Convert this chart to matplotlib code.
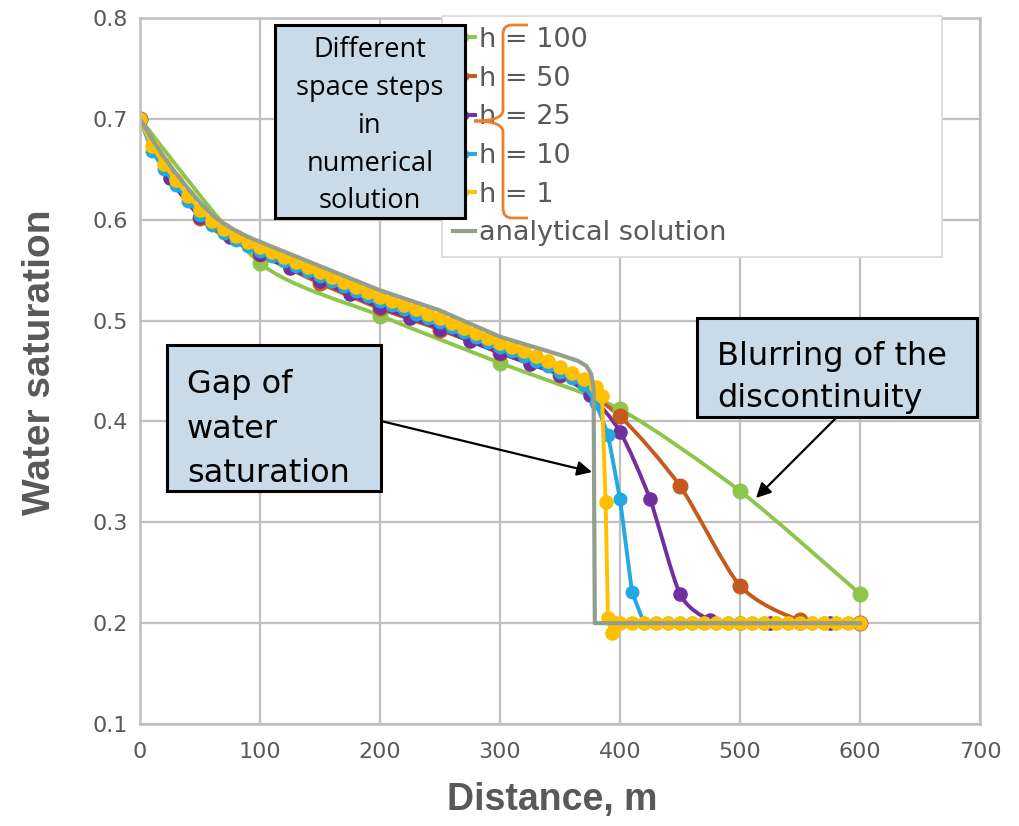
"""
plot.py - water saturation profiles for different space steps.

Recreates the comparison of numerical solutions (h = 100 ... 1)
against the analytical solution, with the three callout boxes.
"""

import matplotlib

matplotlib.use("Agg")

import matplotlib.pyplot as plt
import numpy as np
from matplotlib.lines import Line2D
from matplotlib.patches import FancyArrowPatch, PathPatch, Rectangle
from matplotlib.path import Path
from matplotlib.transforms import Affine2D

W, H = 1019, 826

# ---- data (distance in m, water saturation) ----
X_H100 = [0, 100, 200, 300, 400, 500, 600]
SW_H100 = [0.700, 0.557, 0.505, 0.458, 0.412, 0.331, 0.229]

X_H50 = [0, 50, 100, 150, 200, 250, 300, 350, 400, 450, 500, 550, 600]
SW_H50 = [0.700, 0.602, 0.566, 0.537, 0.512, 0.491, 0.468, 0.446,
          0.405, 0.336, 0.237, 0.203, 0.200]

X_H25 = [0, 25, 50, 75, 100, 125, 150, 175, 200, 225, 250, 275, 300,
         325, 350, 375, 400, 425, 450, 475, 500, 525, 550, 575, 600]
SW_H25 = [0.700, 0.641, 0.603, 0.583, 0.566, 0.552, 0.539, 0.526, 0.513,
          0.503, 0.492, 0.480, 0.468, 0.457, 0.446, 0.426, 0.390, 0.323,
          0.229, 0.203, 0.200, 0.200, 0.200, 0.200, 0.200]

X_H10 = list(range(0, 601, 10))
SW_H10 = [0.700, 0.668, 0.650, 0.634, 0.619, 0.605, 0.595, 0.587, 0.580,
          0.574, 0.569, 0.564, 0.559, 0.554, 0.549, 0.544, 0.539, 0.534,
          0.529, 0.524, 0.519, 0.515, 0.511, 0.507, 0.503, 0.499, 0.494,
          0.489, 0.484, 0.479, 0.474, 0.470, 0.465, 0.460, 0.455, 0.449,
          0.443, 0.436, 0.418, 0.387, 0.323, 0.231,
          0.200, 0.200, 0.200, 0.200, 0.200, 0.200, 0.200, 0.200, 0.200,
          0.200, 0.200, 0.200, 0.200, 0.200, 0.200, 0.200, 0.200, 0.200,
          0.200]

X_H1 = list(range(0, 381, 10)) + [385, 388, 390, 393, 396] + list(range(400, 601, 10))
SW_H1 = [0.700, 0.673, 0.655, 0.639, 0.624, 0.610, 0.599, 0.591, 0.584,
         0.578, 0.573, 0.568, 0.563, 0.558, 0.553, 0.548, 0.543, 0.538,
         0.533, 0.528, 0.523, 0.519, 0.515, 0.511, 0.507, 0.503, 0.498,
         0.493, 0.488, 0.483, 0.478, 0.474, 0.470, 0.465, 0.460, 0.454,
         0.448, 0.442, 0.434,
         0.425, 0.320, 0.205, 0.190, 0.200,
         0.200, 0.200, 0.200, 0.200, 0.200, 0.200, 0.200, 0.200, 0.200,
         0.200, 0.200, 0.200, 0.200, 0.200, 0.200, 0.200, 0.200, 0.200,
         0.200, 0.200, 0.200]

X_AN = [0, 10, 20, 30, 40, 50, 60, 70, 80, 90, 100, 125, 150, 175, 200,
        225, 250, 275, 300, 325, 350, 365, 372, 376, 378, 379, 600]
SW_AN = [0.700, 0.680, 0.662, 0.646, 0.631, 0.617, 0.605, 0.596, 0.589,
         0.583, 0.578, 0.566, 0.554, 0.542, 0.530, 0.520, 0.510, 0.497,
         0.484, 0.475, 0.466, 0.460, 0.455, 0.447, 0.433, 0.200, 0.200]

LABELS = ["h = 100", "h = 50", "h = 25", "h = 10", "h = 1", "analytical solution"]
X_TICKS = [0, 100, 200, 300, 400, 500, 600, 700]
Y_TICKS = [0.1, 0.2, 0.3, 0.4, 0.5, 0.6, 0.7, 0.8]

GREEN = "#8DC64B"
BROWN = "#C65A1E"
PURPLE = "#7030A0"
CYAN = "#22A9E1"
GOLD = "#FFC000"
GREY = "#939F8D"
TEXT_GREY = "#595959"
GRID_GREY = "#BFBFBF"
BOX_BLUE = "#C9DBE9"
BRACE = "#ED7D31"


def smooth_path(xs, ys):
    """Excel-like smoothed line through the points (cubic Bezier pieces)."""
    pts = np.column_stack([xs, ys]).astype(float)
    n = len(pts)
    verts = [pts[0]]
    codes = [Path.MOVETO]
    for i in range(n - 1):
        p0 = pts[max(i - 1, 0)]
        p1 = pts[i]
        p2 = pts[i + 1]
        p3 = pts[min(i + 2, n - 1)]
        verts += [p1 + (p2 - p0) / 8, p2 - (p3 - p1) / 8, p2]
        codes += [Path.CURVE4] * 3
    return Path(verts, codes)


fig = plt.figure(figsize=(W / 100, H / 100), dpi=100)
ax = fig.add_axes([140 / W, 1 - 724 / H, 840 / W, 706 / H])

# pixel coordinates of the picture (origin top-left) -> figure
PX = Affine2D().scale(1 / W, -1 / H).translate(0, 1) + fig.transFigure

# ---- series ----
series = [
    (X_H100, SW_H100, GREEN, 10.5, True),
    (X_H50, SW_H50, BROWN, 10.5, True),
    (X_H25, SW_H25, PURPLE, 9.5, True),
    (X_H10, SW_H10, CYAN, 9.0, False),
    (X_H1, SW_H1, GOLD, 9.5, False),
]
handles = []
for xs, ys, color, ms, smooth in series:
    if smooth:
        ax.add_patch(PathPatch(smooth_path(xs, ys), fill=False, edgecolor=color,
                               lw=2.8, capstyle="round", joinstyle="round"))
    else:
        ax.plot(xs, ys, color=color, lw=2.8, solid_joinstyle="round")
    ax.plot(xs, ys, linestyle="none", marker="o", ms=ms, color=color)
    handles.append(Line2D([], [], color=color, lw=2.8, marker="o", ms=ms))

ax.plot(X_AN, SW_AN, color=GREY, lw=3.0, solid_joinstyle="round")
handles.append(Line2D([], [], color=GREY, lw=3.0))

# ---- axes ----
ax.set_xlim(0, 700)
ax.set_ylim(0.1, 0.8)
ax.set_xticks(X_TICKS)
ax.set_xticklabels([str(v) for v in X_TICKS])
ax.set_yticks(Y_TICKS)
ax.set_yticklabels([f"{v:.1f}" for v in Y_TICKS])
ax.tick_params(length=0, labelsize=16, labelcolor=TEXT_GREY)
ax.tick_params(axis="x", pad=13)
ax.tick_params(axis="y", pad=9)
ax.grid(True, color=GRID_GREY, lw=1.6)
ax.set_axisbelow(True)
for spine in ax.spines.values():
    spine.set_color(GRID_GREY)
    spine.set_linewidth(1.8)

fig.text(552, 800, "Distance, m", transform=PX, ha="center", va="center",
         fontsize=27, fontweight="bold", color=TEXT_GREY,
         family=["Liberation Sans", "DejaVu Sans"])
fig.text(40, 362, "Water saturation", transform=PX, ha="center", va="center",
         rotation=90, fontsize=28, fontweight="bold", color=TEXT_GREY,
         family=["Liberation Sans", "DejaVu Sans"])

# ---- legend ----
leg = ax.legend(handles, LABELS, loc="upper left",
                bbox_to_anchor=(442 / W, 1 - 262 / H, 500 / W, 246 / H),
                bbox_transform=fig.transFigure, mode="expand", borderaxespad=0,
                fontsize=19.5, labelcolor=TEXT_GREY, handlelength=0.8,
                handletextpad=0.15, borderpad=0.4, labelspacing=0.47,
                fancybox=False, framealpha=1)
leg.get_frame().set_edgecolor("#D9D9D9")
leg.get_frame().set_linewidth(1.2)
for handle in leg.legend_handles:
    handle.set_markersize(6)

# ---- callouts ----
fig.add_artist(Rectangle((275, 25), 190, 193, transform=PX, facecolor=BOX_BLUE,
                         edgecolor="black", lw=2.2, zorder=5))
for text, y in zip(["Different", "space steps", "in", "numerical", "solution"],
                   [57, 95, 133, 171, 208]):
    fig.text(370, y, text, transform=PX, ha="center", va="baseline",
             fontsize=19.5, family="Open Sans", zorder=6)

fig.add_artist(Rectangle((167, 345), 214, 146, transform=PX, facecolor=BOX_BLUE,
                         edgecolor="black", lw=2.2, zorder=5))
for text, y in zip(["Gap of", "water", "saturation"], [393, 438, 482]):
    fig.text(187, y, text, transform=PX, ha="left", va="baseline",
             fontsize=23, zorder=6)

fig.add_artist(Rectangle((697, 318), 280, 99, transform=PX, facecolor=BOX_BLUE,
                         edgecolor="black", lw=2.2, zorder=5))
for text, y in zip(["Blurring of the", "discontinuity"], [365, 407]):
    fig.text(717, y, text, transform=PX, ha="left", va="baseline",
             fontsize=23, zorder=6)

for start, end in [((381, 421), (592, 472)), ((836, 418), (756, 498))]:
    fig.add_artist(FancyArrowPatch(start, end, transform=PX, arrowstyle="-|>",
                                   mutation_scale=22, lw=1.6, color="black",
                                   shrinkA=0, shrinkB=0, zorder=4))

brace = Path(
    [(528, 25), (512, 25), (503, 25), (503, 34), (503, 110), (503, 121),
     (474, 121), (503, 121), (503, 132), (503, 208), (503, 218), (512, 218),
     (528, 218)],
    [Path.MOVETO, Path.LINETO, Path.CURVE3, Path.CURVE3, Path.LINETO,
     Path.CURVE3, Path.CURVE3, Path.CURVE3, Path.CURVE3, Path.LINETO,
     Path.CURVE3, Path.CURVE3, Path.LINETO],
)
fig.add_artist(PathPatch(brace, transform=PX, fill=False, edgecolor=BRACE,
                         lw=2.0, zorder=6))

fig.savefig("out.png", dpi=100)
